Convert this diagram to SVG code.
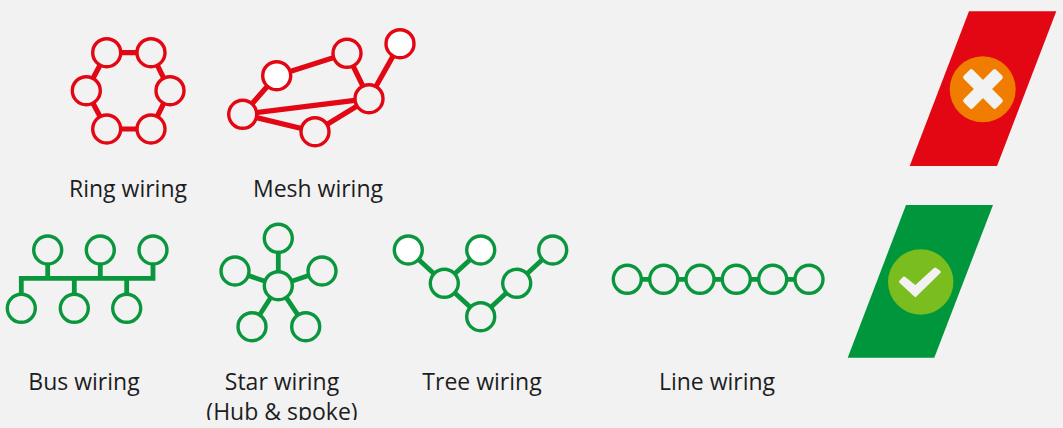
<svg xmlns="http://www.w3.org/2000/svg" width="1063" height="428" viewBox="0 0 1063 428">
<style>
.r{stroke:#e30613}.g{stroke:#0a963c}
.n{fill:#f2f2f2;stroke-width:3.4}.w{fill:#fff}
.c{fill:none}
.r.c{stroke-width:5.200}.g.c{stroke-width:4.800}
text{font-family:"Open Sans","Noto Sans",sans-serif;font-size:23px;fill:#1d1d1f;text-anchor:middle}
</style>
<rect width="1063" height="428" fill="#f2f2f2"/>
<g id="connectors">
<path class="c r" d="M106.700 52.700H151L170 90.700L151 129H106.700L86.300 90.700Z"/>
<path class="c r" d="M400 43.700L369 98.700L347 53.300L276.700 75.700L242.700 114.300L369 98.700L315 131.700L242.700 114.300"/>
<path class="c g" d="M47.700 250V278.300M100.300 250V278.300M153 250V278.300H21.300V308.300M74.300 278.300V308.300M126.700 278.300V308.300"/>
<path class="c g" d="M278.300 285.700V238.300M278.300 285.700L235 271M278.300 285.700L322 271M278.300 285.700L252 326.700M278.300 285.700L305.700 326.700"/>
<path class="c g" d="M408.300 250L444.300 283.300L480.700 250M444.300 283.300L480.700 316.700L516.700 283.300L552.700 250"/>
<path class="c g" d="M627.300 279.300H809"/>
</g>
<g id="ring-wiring">
<circle class="n r" cx="106.700" cy="52.700" r="14"/><circle class="n r" cx="151" cy="52.700" r="14"/><circle class="n r" cx="170" cy="90.700" r="14"/><circle class="n r" cx="151" cy="129" r="14"/><circle class="n r" cx="106.700" cy="129" r="14"/><circle class="n r" cx="86.300" cy="90.700" r="14"/>
<text x="128" y="196.500">Ring wiring</text>
</g>
<g id="mesh-wiring">
<circle class="n r w" cx="400" cy="43.700" r="14"/><circle class="n r" cx="347" cy="53.300" r="14"/><circle class="n r w" cx="276.700" cy="75.700" r="14"/><circle class="n r" cx="369" cy="98.700" r="14"/><circle class="n r" cx="242.700" cy="114.300" r="14"/><circle class="n r" cx="315" cy="131.700" r="14"/>
<text x="318" y="196.500">Mesh wiring</text>
</g>
<g id="bus-wiring">
<circle class="n g" cx="47.700" cy="250" r="14"/><circle class="n g" cx="100.300" cy="250" r="14"/><circle class="n g" cx="153" cy="250" r="14"/><circle class="n g" cx="21.300" cy="308.300" r="14"/><circle class="n g" cx="74.300" cy="308.300" r="14"/><circle class="n g" cx="126.700" cy="308.300" r="14"/>
<text x="84" y="389.500">Bus wiring</text>
</g>
<g id="star-wiring">
<circle class="n g" cx="278.300" cy="238.300" r="14"/><circle class="n g" cx="235" cy="271" r="14"/><circle class="n g" cx="322" cy="271" r="14"/><circle class="n g" cx="252" cy="326.700" r="14"/><circle class="n g" cx="305.700" cy="326.700" r="14"/><circle class="n g" cx="278.300" cy="285.700" r="14"/>
<text x="282" y="389.500">Star wiring</text>
<text x="282" y="419.500">(Hub &amp; spoke)</text>
<rect x="190" y="420" width="190" height="8" fill="#f2f2f2"/>
</g>
<g id="tree-wiring">
<circle class="n g w" cx="408.300" cy="250" r="14"/><circle class="n g w" cx="480.700" cy="250" r="14"/><circle class="n g" cx="552.700" cy="250" r="14"/><circle class="n g" cx="444.300" cy="283.300" r="14"/><circle class="n g" cx="516.700" cy="283.300" r="14"/><circle class="n g" cx="480.700" cy="316.700" r="14"/>
<text x="482" y="389.500">Tree wiring</text>
</g>
<g id="line-wiring">
<circle class="n g" cx="627.300" cy="279.300" r="14"/><circle class="n g" cx="663.700" cy="279.300" r="14"/><circle class="n g" cx="700" cy="279.300" r="14"/><circle class="n g" cx="736.300" cy="279.300" r="14"/><circle class="n g" cx="772.700" cy="279.300" r="14"/><circle class="n g" cx="809" cy="279.300" r="14"/>
<text x="717" y="389.500">Line wiring</text>
</g>
<g id="bad-badge">
<polygon points="969,11.300 1056.300,11.300 997,166 909.700,166" fill="#e30613"/>
<circle cx="982.700" cy="89.300" r="33" fill="#f07d00"/>
<g fill="#f2f2f2" transform="translate(983 89) rotate(45)"><rect x="-23" y="-6.500" width="46" height="13" rx="2.500"/><rect x="-6.500" y="-23" width="13" height="46" rx="2.500"/></g>
</g>
<g id="good-badge">
<polygon points="906,205 993,205 934.300,357.700 847.700,357.700" fill="#00963c"/>
<circle cx="920.700" cy="282" r="32.700" fill="#7abd1e"/>
<polygon points="900.500,281.700 904,278 915.300,287 935,269 939.300,271.900 915.300,295.500" fill="#f2f2f2" stroke="#f2f2f2" stroke-width="3" stroke-linejoin="round"/>
</g>
</svg>
